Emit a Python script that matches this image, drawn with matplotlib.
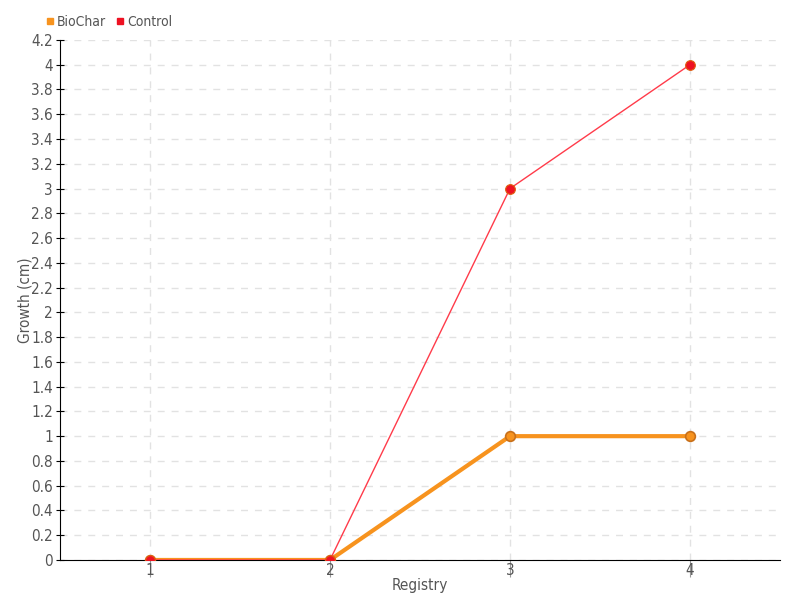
import numpy as np
import matplotlib
matplotlib.use("Agg")
import matplotlib.pyplot as plt
from matplotlib.lines import Line2D
from matplotlib.ticker import FuncFormatter

# datos
registros = [1, 2, 3, 4]
biochar = [0, 0, 1, 1]
control = [0, 0, 3, 4]
series = ["BioChar", "Control"]

plt.rcParams['font.family'] = ['DejaVu Sans']
plt.rcParams['font.stretch'] = 'condensed'
gris = "#555555"
naranja = "#f7931e"
rojo = "#ee1122"

fig = plt.figure(figsize=(8, 6), dpi=100)
ax = fig.add_axes([0.075, 0.0667, 0.9, 0.8667])

ax.plot(registros, biochar, color=naranja, lw=3, marker="o", ms=7,
        mfc=naranja, mec="#c8701a", mew=1.2, zorder=3)
ax.plot(registros, control, color="#ff3b4a", lw=1, marker="o", ms=7,
        mfc=rojo, mec="#e06010", mew=0.8, zorder=4)

ax.set_xlim(0.5, 4.5)
ax.set_ylim(0, 4.2)
ax.set_xticks(registros)
ax.set_yticks(np.arange(0, 4.21, 0.2))
ax.yaxis.set_major_formatter(FuncFormatter(lambda v, p: "%g" % round(v, 1)))

ax.grid(True, color="#e2e2e2", ls=(0, (5, 5)), lw=1)
ax.set_axisbelow(True)
for s in ["top", "right"]:
    ax.spines[s].set_visible(False)
ax.tick_params(axis="y", direction="inout", length=6, colors="black",
               labelcolor=gris, labelsize=11, pad=2)
ax.tick_params(axis="x", direction="out", length=12, color="#999999",
               labelcolor=gris, labelsize=11, pad=-10)

ax.set_xlabel("Registry", color=gris, fontsize=11, labelpad=0)
ax.set_ylabel("Growth (cm)", color=gris, fontsize=11, labelpad=-1)

# leyenda arriba a la izquierda
handles = [Line2D([], [], ls="", marker="s", ms=4, color=c) for c in (naranja, rojo)]
fig.legend(handles, series, loc="center left", bbox_to_anchor=(0.047, 0.963),
           ncol=2, frameon=False, fontsize=10, labelcolor=gris,
           handletextpad=0.1, columnspacing=0.6, handlelength=0.8, borderpad=0)

fig.savefig("out.png", dpi=100)
